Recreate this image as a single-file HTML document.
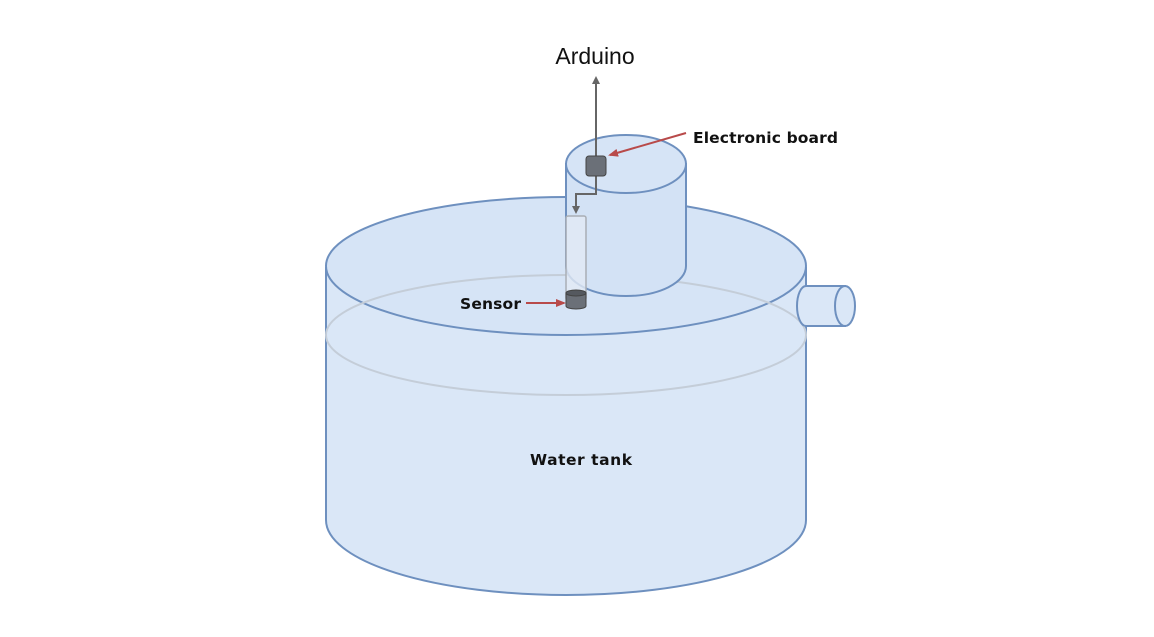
<!DOCTYPE html>
<html><head><style>body{margin:0;background:#fff}svg{display:block}</style></head><body>
<svg width="1154" height="637" viewBox="0 0 1154 637" xmlns="http://www.w3.org/2000/svg" font-family="'Liberation Sans',sans-serif">
<defs>
<marker id="ag" markerWidth="8" markerHeight="8" refX="6" refY="4" orient="auto" markerUnits="userSpaceOnUse"><path d="M0,0 L8,4 L0,8 z" fill="#666"/></marker>
<marker id="ar" markerWidth="10" markerHeight="8" refX="8" refY="4" orient="auto" markerUnits="userSpaceOnUse"><path d="M0,0 L10,4 L0,8 z" fill="#b84a4a"/></marker>
</defs>
<!-- tank body -->
<path d="M326,268 L326,520 A240,75 0 0 0 806,520 L806,268 Z" fill="#dae7f7" stroke="#6e90bf" stroke-width="2"/>
<ellipse cx="566" cy="266" rx="240" ry="69" fill="#d6e4f6" stroke="#6e90bf" stroke-width="2"/>
<ellipse cx="566" cy="335" rx="240" ry="60" fill="none" stroke="#c4cdd8" stroke-width="2"/>
<!-- pipe -->
<path d="M806,286 L845,286 L845,326 L806,326 A9,20 0 0 1 806,286 Z" fill="#dae7f7" stroke="#6e90bf" stroke-width="2"/>
<ellipse cx="845" cy="306" rx="10" ry="20" fill="#dae7f7" stroke="#6e90bf" stroke-width="2"/>
<!-- small cylinder -->
<path d="M566,164 L566,266 A60,30 0 0 0 686,266 L686,164 Z" fill="#d3e2f5" stroke="#6e90bf" stroke-width="2"/>
<ellipse cx="626" cy="164" rx="60" ry="29" fill="#d6e4f6" stroke="#6e90bf" stroke-width="2"/>
<!-- probe tube -->
<rect x="566" y="216" width="20" height="84" rx="2" fill="#e2eaf5" fill-opacity="0.8" stroke="#a9aeb5" stroke-width="1.5"/>
<!-- sensor -->
<path d="M566,293 L566,306 A10,3 0 0 0 586,306 L586,293 Z" fill="#6b7078" stroke="#444" stroke-width="1"/>
<ellipse cx="576" cy="293" rx="10" ry="3" fill="#55595f" stroke="#444" stroke-width="1"/>
<!-- wires -->
<line x1="596" y1="158" x2="596" y2="78" stroke="#666" stroke-width="2" marker-end="url(#ag)"/>
<polyline points="596,176 596,194 576,194 576,212" fill="none" stroke="#666" stroke-width="2" marker-end="url(#ag)"/>
<rect x="586" y="156" width="20" height="20" rx="3" fill="#6b7078" stroke="#444" stroke-width="1"/>
<!-- red arrows -->
<line x1="686" y1="133" x2="610" y2="155" stroke="#b84a4a" stroke-width="2" marker-end="url(#ar)"/>
<line x1="526" y1="303" x2="564" y2="303" stroke="#b84a4a" stroke-width="2" marker-end="url(#ar)"/>
<!-- labels -->
<text x="595" y="64" font-size="23" text-anchor="middle" fill="#111">Arduino</text>
<g font-family="'DejaVu Sans',sans-serif" font-size="15.5" font-weight="bold" fill="#111">
<text x="693" y="143" textLength="145">Electronic board</text>
<text x="460" y="309" textLength="61">Sensor</text>
<text x="530" y="465" textLength="102">Water tank</text>
</g>
</svg>
</body></html>
